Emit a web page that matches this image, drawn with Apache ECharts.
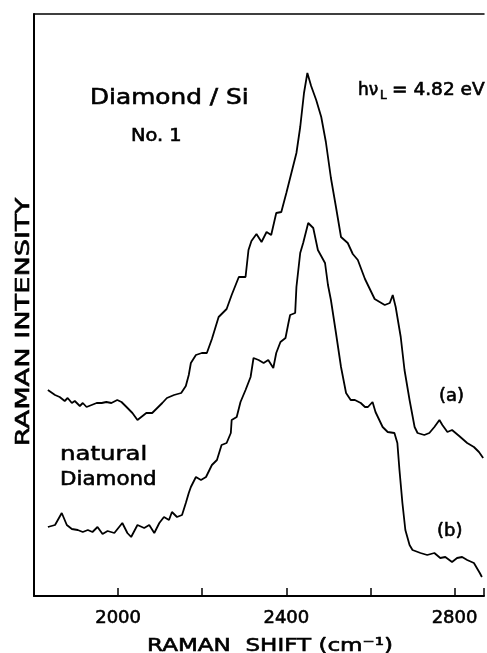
<!DOCTYPE html>
<html>
<head>
<meta charset="utf-8">
<script src="https://cdn.jsdelivr.net/npm/echarts@6.0.0/dist/echarts.min.js"></script>
<style>
  html, body { margin: 0; padding: 0; background: #fff; }
  #chart { width: 487px; height: 653px; }
</style>
</head>
<body>
<div id="chart"></div>
<script>
// Raman shift (cm^-1) and intensity (arbitrary units)
const shiftA = [1833,1850,1861,1873,1880,1890,1897,1909,1916,1925,1937,1949,1961,1972,1984,1998,2008,2020,2034,2046,2055,2067,2081,2093,2105,2116,2133,2150,2161,2168,2173,2185,2199,2211,2223,2239,2258,2270,2287,2303,2310,2317,2329,2341,2353,2364,2376,2388,2400,2412,2424,2433,2442,2450,2459,2471,2483,2494,2506,2518,2530,2546,2558,2570,2587,2610,2634,2646,2653,2660,2672,2681,2693,2705,2712,2728,2740,2752,2764,2771,2783,2794,2811,2830,2846,2858,2868];
const intensityA = [206,201,199,195,198,193,195,190,193,189,191,193,193,194,193,196,194,189,183,176,179,183,183,188,193,198,201,203,210,221,233,241,243,243,257,279,287,301,319,319,346,355,362,354,364,361,383,384,403,423,443,469,503,523,510,496,479,454,418,389,359,353,342,336,317,297,291,293,301,289,259,226,196,169,163,161,163,169,176,171,164,166,160,153,149,144,138];

const shiftB = [1833,1850,1866,1878,1890,1904,1916,1928,1939,1951,1963,1975,1991,2010,2022,2031,2046,2062,2074,2086,2098,2109,2121,2128,2140,2152,2161,2168,2173,2185,2197,2209,2223,2235,2246,2258,2268,2270,2282,2291,2303,2315,2322,2334,2346,2357,2369,2376,2386,2398,2405,2409,2421,2424,2433,2440,2452,2464,2475,2492,2499,2506,2518,2530,2542,2553,2563,2577,2587,2594,2605,2612,2629,2641,2657,2664,2669,2676,2683,2693,2700,2719,2735,2752,2766,2778,2794,2806,2818,2830,2846,2860,2865];
const intensityB = [69,71,83,71,67,66,64,66,64,69,62,65,63,73,63,59,71,68,71,63,73,79,76,84,79,81,93,103,109,119,116,119,131,136,151,153,163,176,179,194,206,219,238,236,233,236,228,243,254,258,273,281,283,309,343,353,373,368,346,333,311,296,263,229,203,196,196,193,189,189,194,184,169,164,163,153,126,93,66,51,46,43,41,43,38,39,34,38,39,36,33,23,19];

const xTickValues = [2000, 2400, 2800];
const xTitle = 'RAMAN  SHIFT (cm⁻¹)';
const yTitle = 'RAMAN INTENSITY';

const FONT = 'DejaVu Sans';
const INK = '#000';

function pairs(xs, ys) { return xs.map((x, i) => [x, ys[i]]); }

function txt(text, x, y, size, opts) {
  opts = opts || {};
  return {
    type: 'text', x: x, y: y,
    rotation: opts.rotation || 0,
    scaleX: opts.scaleX || 1,
    style: {
      text: text, fill: INK, stroke: INK, lineWidth: 0.6,
      font: size + 'px "' + FONT + '"',
      align: opts.align || 'left', verticalAlign: 'middle'
    }
  };
}

const chart = echarts.init(document.getElementById('chart'), null, { renderer: 'canvas' });
chart.setOption({
  backgroundColor: '#fff',
  animation: false,
  grid: { left: 34, right: 0, top: 14, bottom: 57, containLabel: false },
  xAxis: [{
    type: 'value', min: 1800, max: 2870, interval: 200,
    axisLine: { show: true, lineStyle: { color: INK, width: 2 } },
    axisTick: { show: true, inside: true, length: 8, lineStyle: { color: INK, width: 1.5 } },
    axisLabel: {
      show: true, margin: 13, color: INK, fontFamily: FONT, fontSize: 18,
      textBorderColor: INK, textBorderWidth: 0.6,
      formatter: v => xTickValues.indexOf(v) >= 0 ? String(v) : ''
    },
    splitLine: { show: false }
  }, {
    type: 'value', position: 'top', min: 1800, max: 2870,
    axisLine: { show: true, onZero: false, lineStyle: { color: INK, width: 1.5 } },
    axisTick: { show: false }, axisLabel: { show: false }, splitLine: { show: false }
  }],
  yAxis: {
    type: 'value', min: 0, max: 582,
    axisLine: { show: true, lineStyle: { color: INK, width: 2 } },
    axisTick: { show: false }, axisLabel: { show: false }, splitLine: { show: false }
  },
  series: [
    { name: '(a)', type: 'line', data: pairs(shiftA, intensityA), showSymbol: false,
      lineStyle: { color: INK, width: 1.8 } },
    { name: '(b)', type: 'line', data: pairs(shiftB, intensityB), showSymbol: false,
      lineStyle: { color: INK, width: 1.8 } }
  ],
  graphic: [
    txt(yTitle, 24, 322, 20, { rotation: Math.PI / 2, scaleX: 1.36, align: 'center' }),
    txt(xTitle, 270, 646, 18, { scaleX: 1.28, align: 'center' }),
    txt('Diamond / Si', 90, 98.5, 21, { scaleX: 1.18 }),
    txt('No. 1', 131, 137, 17, { scaleX: 1.14 }),
    txt('hν', 358, 91, 17),
    txt('L', 380, 96, 12),
    txt('= 4.82 eV', 392, 91, 17, { scaleX: 1.09 }),
    txt('(a)', 439, 396, 18),
    txt('(b)', 437, 531, 18),
    txt('natural', 60, 455, 20, { scaleX: 1.22 }),
    txt('Diamond', 60, 480, 20, { scaleX: 1.07 })
  ]
});
</script>
</body>
</html>
